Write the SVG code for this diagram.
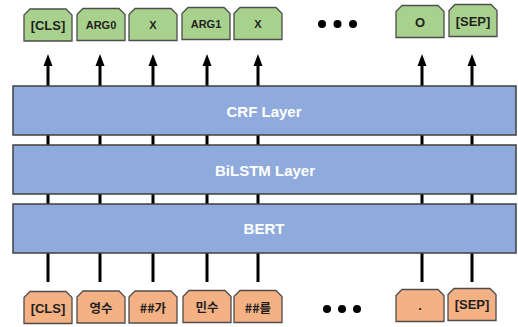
<svg xmlns="http://www.w3.org/2000/svg" xmlns:xlink="http://www.w3.org/1999/xlink" width="518" height="327" viewBox="0 0 518 327">
  <style>
    .tag { stroke: #4d4d4d; stroke-width: 1.3; }
    .out { fill: #a9d18e; }
    .in { fill: #f4b183; }
    .layer { fill: #8faadc; stroke: #404040; stroke-width: 1.5; }
    .lbl { font-family: "Liberation Sans", "Noto Sans CJK KR", sans-serif; font-weight: bold; font-size: 13px; fill: #1f1f1f; text-anchor: middle; dominant-baseline: central; }
    .sm { font-size: 11px; }
    .ko { font-family: "Noto Sans CJK KR", "Liberation Sans", sans-serif; font-size: 12.5px; }
    .ltxt { font-family: "Liberation Sans", sans-serif; font-weight: bold; font-size: 15px; fill: #ffffff; text-anchor: middle; dominant-baseline: central; }
    .wire { stroke: #000000; stroke-width: 3; fill: none; }
    .dot { fill: #000000; }
  </style>
  <defs>
    <!-- tag shape: rectangle with both top corners snipped -->
    <path id="tab" d="M6,0 H42 L48,6 V32 H0 V6 Z"/>
    <!-- arrowhead pointing up, tip at the origin -->
    <polygon id="head" points="0,0 -4.5,12 4.5,12" fill="#000000"/>
  </defs>

  <!-- connectors -->
  <g id="connectors">
    <!-- output arrows above the CRF layer -->
    <g id="arrows-out">
      <path class="wire" d="M48,86 V64 M100,86 V64 M153,86 V64 M207,86 V64 M258,86 V64 M422,86 V64 M472,86 V64"/>
      <use xlink:href="#head" x="48" y="54"/>
      <use xlink:href="#head" x="100" y="54"/>
      <use xlink:href="#head" x="153" y="54"/>
      <use xlink:href="#head" x="207" y="54"/>
      <use xlink:href="#head" x="258" y="54"/>
      <use xlink:href="#head" x="422" y="54"/>
      <use xlink:href="#head" x="472" y="54"/>
    </g>
    <!-- links between stacked layers -->
    <g id="links-mid">
      <path class="wire" d="M48,135 V145 M100,135 V145 M153,135 V145 M207,135 V145 M258,135 V145 M422,135 V145 M472,135 V145"/>
      <path class="wire" d="M48,194 V204 M100,194 V204 M153,194 V204 M207,194 V204 M258,194 V204 M422,194 V204 M472,194 V204"/>
    </g>
    <!-- input lines under the BERT layer -->
    <g id="links-in">
      <path class="wire" d="M48,253 V282 M100,253 V282 M153,253 V282 M207,253 V282 M258,253 V282 M422,253 V282 M472,253 V282"/>
    </g>
  </g>

  <!-- layers -->
  <g id="crf">
    <rect class="layer" x="13" y="86" width="503" height="49"/>
    <text class="ltxt" x="264" y="111">CRF Layer</text>
  </g>
  <g id="bilstm">
    <rect class="layer" x="13" y="145" width="503" height="49"/>
    <text class="ltxt" x="265" y="170">BiLSTM Layer</text>
  </g>
  <g id="bert">
    <rect class="layer" x="13" y="204" width="503" height="49"/>
    <text class="ltxt" x="264" y="228">BERT</text>
  </g>

  <!-- output tags -->
  <g id="out-cls" transform="translate(24,9)">
    <use xlink:href="#tab" class="tag out"/>
    <text class="lbl" x="24" y="16.5">[CLS]</text>
  </g>
  <g id="out-arg0" transform="translate(77,8.5)">
    <use xlink:href="#tab" class="tag out"/>
    <text class="lbl sm" x="24" y="16.5">ARG0</text>
  </g>
  <g id="out-x1" transform="translate(129,8.5)">
    <use xlink:href="#tab" class="tag out"/>
    <text class="lbl sm" x="24" y="16.5">X</text>
  </g>
  <g id="out-arg1" transform="translate(182,7.5)">
    <use xlink:href="#tab" class="tag out"/>
    <text class="lbl sm" x="24" y="16">ARG1</text>
  </g>
  <g id="out-x2" transform="translate(234,7.5)">
    <use xlink:href="#tab" class="tag out"/>
    <text class="lbl sm" x="24" y="16.5">X</text>
  </g>
  <g id="out-dots">
    <circle class="dot" cx="322" cy="24" r="4"/>
    <circle class="dot" cx="337.5" cy="24" r="4"/>
    <circle class="dot" cx="353" cy="24" r="4"/>
  </g>
  <g id="out-o" transform="translate(396,5.5)">
    <use xlink:href="#tab" class="tag out"/>
    <text class="lbl" x="24" y="17">O</text>
  </g>
  <g id="out-sep" transform="translate(449,4.5)">
    <use xlink:href="#tab" class="tag out"/>
    <text class="lbl" x="24" y="16.5">[SEP]</text>
  </g>

  <!-- input tokens -->
  <g id="in-cls" transform="translate(24,291.5)">
    <use xlink:href="#tab" class="tag in"/>
    <text class="lbl" x="24" y="17">[CLS]</text>
  </g>
  <g id="in-yeongsu" transform="translate(77,291)">
    <use xlink:href="#tab" class="tag in"/>
    <text class="lbl ko" x="24" y="16">영수</text>
  </g>
  <g id="in-ga" transform="translate(129,291)">
    <use xlink:href="#tab" class="tag in"/>
    <text class="lbl ko" x="24" y="16.5">##가</text>
  </g>
  <g id="in-minsu" transform="translate(183,290.5)">
    <use xlink:href="#tab" class="tag in"/>
    <text class="lbl ko" x="24" y="16">민수</text>
  </g>
  <g id="in-reul" transform="translate(234,290.5)">
    <use xlink:href="#tab" class="tag in"/>
    <text class="lbl ko" x="24" y="16.5">##를</text>
  </g>
  <g id="in-dots">
    <circle class="dot" cx="327" cy="309" r="4"/>
    <circle class="dot" cx="342" cy="309" r="4"/>
    <circle class="dot" cx="357" cy="309" r="4"/>
  </g>
  <g id="in-period" transform="translate(396,289.5)">
    <use xlink:href="#tab" class="tag in"/>
    <text class="lbl" x="24" y="16">.</text>
  </g>
  <g id="in-sep" transform="translate(448,288.5)">
    <use xlink:href="#tab" class="tag in"/>
    <text class="lbl" x="24" y="16">[SEP]</text>
  </g>
</svg>
